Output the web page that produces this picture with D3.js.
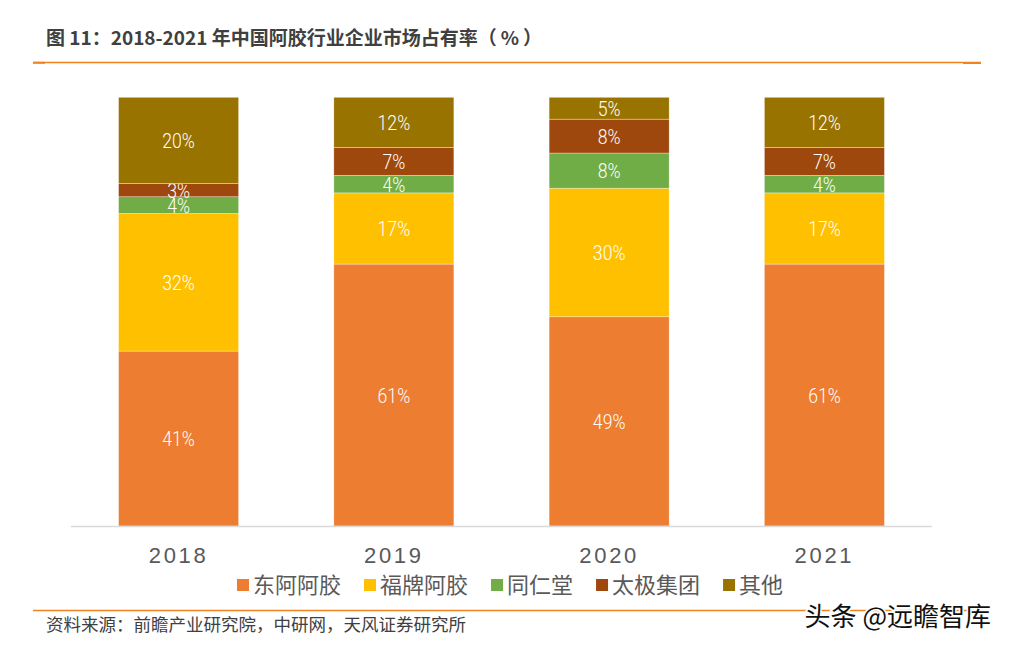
<!DOCTYPE html>
<html>
<head>
<meta charset="utf-8">
<script src="https://cdn.jsdelivr.net/npm/d3@7"></script>
<style>
html,body{margin:0;padding:0;background:#fff;}
svg{display:block;}
</style>
</head>
<body>
<svg id="chart" width="1010" height="649"></svg>
<script>
// ---- data ----
const years = ["2018", "2019", "2020", "2021"];
const seriesNames = ["东阿阿胶", "福牌阿胶", "同仁堂", "太极集团", "其他"];
const seriesColors = ["#ED7D31", "#FFC000", "#70AD47", "#9E480E", "#997300"];
const dongE   = [40.8, 61.1, 48.8, 61.1];
const fuPai   = [32.1, 16.6, 30.0, 16.6];
const tongRen = [3.9, 4.1, 8.2, 4.1];
const taiJi   = [3.1, 6.5, 7.9, 6.5];
const others  = [20.1, 11.7, 5.1, 11.7];
const yDomain = [0, 100];
const titleParts = ["图 11：2018-2021 年中国阿胶行业企业市场占有率", "（", "%", "）"];
const sourceText = "资料来源：前瞻产业研究院，中研网，天风证券研究所";
const watermarkText = "头条 @远瞻智库";

const seriesValues = [dongE, fuPai, tongRen, taiJi, others];
const table = years.map((y, i) => {
  const row = { year: y };
  seriesNames.forEach((s, j) => row[s] = seriesValues[j][i]);
  return row;
});

const svg = d3.select("#chart");
const CJK = "'Noto Sans CJK SC','Noto Sans',sans-serif";

// title
const title = svg.append("text")
  .attr("x", 46).attr("y", 45)
  .attr("font-family", CJK)
  .attr("font-weight", "bold")
  .attr("font-size", 19)
  .attr("fill", "#404040");
const titleDx = [0, 0, 4, 4];
titleParts.forEach((p, i) => title.append("tspan").attr("dx", titleDx[i]).text(p));

// top orange rule
svg.append("line").attr("x1", 33).attr("x2", 981).attr("y1", 62.5).attr("y2", 62.5)
  .attr("stroke", "#F0831F").attr("stroke-width", 1.3);
svg.append("line").attr("x1", 33).attr("x2", 45).attr("y1", 62.8).attr("y2", 62.8)
  .attr("stroke", "#F0831F").attr("stroke-width", 2);
svg.append("line").attr("x1", 963).attr("x2", 981).attr("y1", 63).attr("y2", 63)
  .attr("stroke", "#F0831F").attr("stroke-width", 2);

// scales
const x = d3.scaleBand().domain(years).range([71, 932]).paddingInner(0.4425).paddingOuter(0.221);
const y = d3.scaleLinear().domain(yDomain).range([526, 97.3]);

const stack = d3.stack().keys(seriesNames);
const stacked = stack(table);

const g = svg.append("g");
const layers = g.selectAll("g.layer").data(stacked).join("g")
  .attr("class", "layer")
  .attr("fill", (d, i) => seriesColors[i]);

layers.selectAll("rect").data(d => d).join("rect")
  .attr("x", d => x(d.data.year))
  .attr("width", x.bandwidth())
  .attr("y", d => y(d[1]))
  .attr("height", d => y(d[0]) - y(d[1]))
  .attr("stroke", "rgba(255,255,255,0.55)")
  .attr("stroke-width", 0.6);

// value labels (narrow, light)
const fmt = d3.format(".0f");
layers.selectAll("text").data(d => d).join("text")
  .attr("transform", d => `translate(${x(d.data.year) + x.bandwidth() / 2},${(y(d[0]) + y(d[1])) / 2}) scale(0.84,1)`)
  .attr("dy", "0.36em")
  .attr("text-anchor", "middle")
  .attr("font-family", "Roboto,'Liberation Sans',sans-serif")
  .attr("font-weight", 300)
  .attr("font-size", 21)
  .attr("fill", "#ffffff")
  .text(d => fmt(d[1] - d[0]) + "%");

// x axis
const xAxis = svg.append("g")
  .attr("transform", "translate(0,526.5)")
  .call(d3.axisBottom(x).tickSize(0).tickSizeOuter(0).tickPadding(21));
xAxis.select(".domain").attr("stroke", "#D9D9D9").attr("stroke-width", 1.3)
  .attr("d", "M71,0H932");
xAxis.selectAll("text")
  .attr("font-family", "'Liberation Sans',Arial,sans-serif")
  .attr("font-size", 22)
  .attr("letter-spacing", 2.7)
  .attr("fill", "#595959");

// legend
const legend = svg.append("g");
let lx = 237;
seriesNames.forEach((name, i) => {
  legend.append("rect").attr("x", lx).attr("y", 579).attr("width", 12).attr("height", 12)
    .attr("fill", seriesColors[i]);
  const t = legend.append("text").attr("x", lx + 16).attr("y", 585)
    .attr("dy", "0.35em")
    .attr("font-family", CJK).attr("font-size", 22).attr("fill", "#595959")
    .text(name);
  lx += 16 + t.node().getComputedTextLength() + 23;
});

// bottom rule
svg.append("line").attr("x1", 33).attr("x2", 981).attr("y1", 610.5).attr("y2", 610.5)
  .attr("stroke", "#F0831F").attr("stroke-width", 1.6);

// source
svg.append("text").attr("x", 46).attr("y", 625).attr("dy", "0.35em")
  .attr("font-family", CJK).attr("font-size", 17.5).attr("fill", "#404040")
  .text(sourceText);

// watermark
svg.append("text").attr("x", 991).attr("y", 617).attr("dy", "0.35em")
  .attr("text-anchor", "end")
  .attr("font-family", CJK).attr("font-size", 26)
  .attr("fill", "#111111")
  .attr("stroke", "#ffffff").attr("stroke-width", 3)
  .attr("paint-order", "stroke")
  .text(watermarkText);
</script>
</body>
</html>
